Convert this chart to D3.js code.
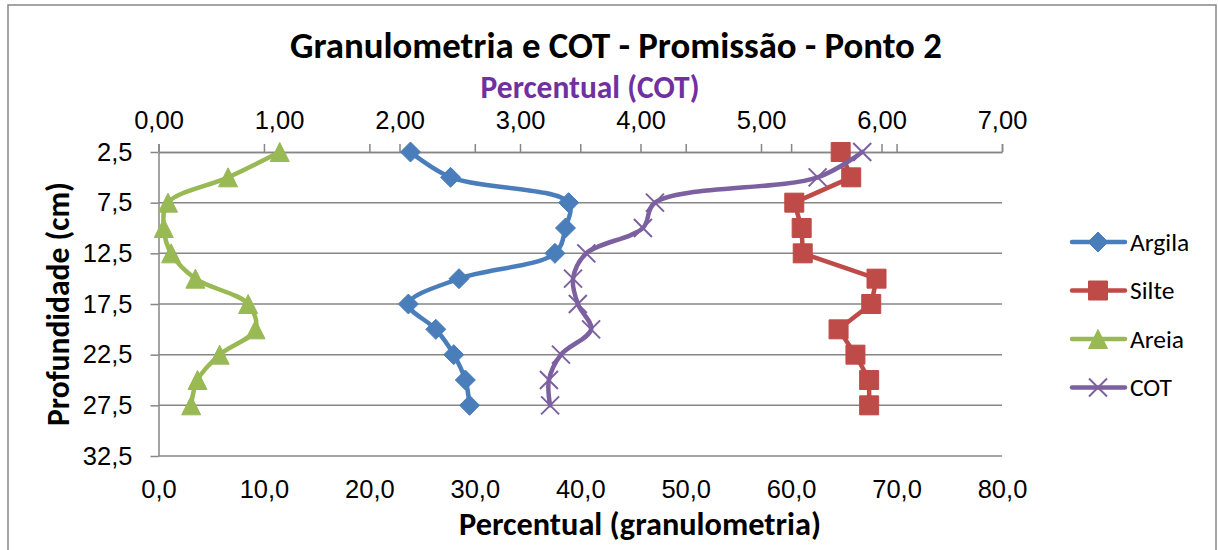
<!DOCTYPE html>
<html>
<head>
<meta charset="utf-8">
<script src="https://cdn.jsdelivr.net/npm/d3@7"></script>
<style>
  body { margin: 0; background: #fff; }
  svg { display: block; font-family: Carlito, Calibri, Lato, sans-serif; }
</style>
</head>
<body>
<div id="chart"></div>
<script>
// depth of each sample (cm) and percentages
var depth = [2.5, 5, 7.5, 10, 12.5, 15, 17.5, 20, 22.5, 25, 27.5]
var argila = [23.9, 27.7, 38.9, 38.6, 37.6, 28.5, 23.7, 26.3, 28.0, 29.1, 29.5]
var silte = [64.7, 65.7, 60.3, 61.0, 61.1, 68.1, 67.6, 64.5, 66.1, 67.4, 67.4]
var areia = [11.5, 6.6, 0.9, 0.5, 1.2, 3.5, 8.5, 9.2, 5.8, 3.7, 3.1]
var cot = [5.84, 5.47, 4.12, 4.02, 3.55, 3.44, 3.48, 3.59, 3.34, 3.24, 3.25]

var depthTicks = [2.5, 7.5, 12.5, 17.5, 22.5, 27.5, 32.5]
var granTicks = [0, 10, 20, 30, 40, 50, 60, 70, 80]
var cotTicks = [0, 1, 2, 3, 4, 5, 6, 7]

var W = 1218, H = 550
var svg = d3.select('#chart').append('svg').attr('width', W).attr('height', H)

svg.append('rect').attr('x', 8).attr('y', 5).attr('width', 1208).attr('height', 570)
    .attr('fill', '#fff').attr('stroke', '#868686').attr('stroke-width', 1.5)

const plot = { left: 158.5, right: 1002, top: 152, bottom: 456 }
const y = d3.scaleLinear().domain([2.5, 32.5]).range([plot.top, plot.bottom])
const xGran = d3.scaleLinear().domain([0, 80]).range([plot.left, plot.right])
const xCot = d3.scaleLinear().domain([0, 7]).range([plot.left, plot.right])

const comma = f => (v => d3.format(f)(v).replace('.', ','))
const gray = '#868686'
const labelSize = 25.5

// gridlines
svg.append('g').selectAll('line')
    .data(depthTicks.slice(1))
    .enter().append('line')
    .attr('x1', plot.left).attr('x2', plot.right)
    .attr('y1', d => y(d)).attr('y2', d => y(d))
    .attr('stroke', gray).attr('stroke-width', 1.5)

function styleAxis(g) {
    g.selectAll('path, line').attr('stroke', gray).attr('stroke-width', 1.5)
    g.selectAll('text').attr('fill', '#000').attr('font-size', labelSize)
}

// top line carries the ticks of both horizontal axes
svg.append('g').attr('transform', `translate(0,${plot.top})`)
    .call(d3.axisTop(xGran).tickValues(granTicks).tickSize(8).tickSizeOuter(0).tickFormat(''))
    .call(styleAxis)
svg.append('g').attr('transform', `translate(0,${plot.top})`)
    .call(d3.axisTop(xCot).tickValues(cotTicks).tickSize(8).tickSizeOuter(0).tickPadding(15).tickFormat(comma('.2f')))
    .call(styleAxis)

// bottom labels only
svg.append('g').attr('transform', `translate(0,${plot.bottom})`)
    .call(d3.axisBottom(xGran).tickValues(granTicks).tickSize(0).tickPadding(24).tickFormat(comma('.1f')))
    .call(styleAxis)
    .call(g => g.select('.domain').remove())

svg.append('g').attr('transform', `translate(${plot.left},0)`)
    .call(d3.axisLeft(y).tickValues(depthTicks).tickSize(8).tickSizeOuter(0).tickPadding(18).tickFormat(comma('.1f')))
    .call(styleAxis)

// markers, centred on their bounding box like Excel draws them
function markerPath(type, s) {
    var h = s / 2
    if (type == 'diamond') return `M0,${-h}L${h},0L0,${h}L${-h},0Z`
    if (type == 'square') return `M${-h},${-h}H${h}V${h}H${-h}Z`
    if (type == 'triangle') return `M0,${-h}L${h},${h}L${-h},${h}Z`
    return `M${-h},${-h}L${h},${h}M${-h},${h}L${h},${-h}`
}

var series = [
    { name: 'Argila', values: argila, x: xGran, color: '#4A7EBB', marker: 'diamond', size: 20, curve: d3.curveCatmullRom },
    { name: 'Silte', values: silte, x: xGran, color: '#BE4B48', marker: 'square', size: 19, curve: d3.curveLinear },
    { name: 'Areia', values: areia, x: xGran, color: '#98B954', marker: 'triangle', size: 19, curve: d3.curveCatmullRom },
    { name: 'COT', values: cot, x: xCot, color: '#7D60A0', marker: 'x', size: 18, curve: d3.curveCatmullRom }
]

function drawMarker(g, s, cx, cy) {
    var p = g.append('path').attr('d', markerPath(s.marker, s.size))
        .attr('transform', `translate(${cx},${cy})`)
    if (s.marker == 'x') p.attr('fill', 'none').attr('stroke', s.color).attr('stroke-width', 2)
    else p.attr('fill', s.color).attr('stroke', s.color).attr('stroke-width', 1)
}

series.forEach(s => {
    var pts = s.values.map((v, i) => [s.x(v), y(depth[i])])
    var g = svg.append('g')
    g.append('path').attr('d', d3.line().curve(s.curve)(pts))
        .attr('fill', 'none').attr('stroke', s.color).attr('stroke-width', 4.5)
        .attr('stroke-linejoin', 'round').attr('stroke-linecap', 'round')
    pts.forEach(p => drawMarker(g, s, p[0], p[1]))
})

// legend
var legend = svg.append('g')
series.forEach((s, i) => {
    var ly = 242 + i * 48.5
    legend.append('line').attr('x1', 1072).attr('x2', 1125).attr('y1', ly).attr('y2', ly)
        .attr('stroke', s.color).attr('stroke-width', 4.5).attr('stroke-linecap', 'round')
    drawMarker(legend, s, 1098, ly)
    legend.append('text').attr('x', 1130).attr('y', ly).attr('dy', '0.35em')
        .attr('font-size', labelSize).text(s.name)
})

// titles, sized to the widths measured on the reference
function fit(t, w) {
    var cur = t.node().getComputedTextLength()
    t.attr('font-size', parseFloat(t.attr('font-size')) * w / cur)
}

fit(svg.append('text').attr('x', 616).attr('y', 58).attr('text-anchor', 'middle')
    .attr('font-weight', 'bold').attr('font-size', 30)
    .text('Granulometria e COT - Promissão - Ponto 2'), 652)

fit(svg.append('text').attr('x', 590).attr('y', 98).attr('text-anchor', 'middle')
    .attr('font-weight', 'bold').attr('font-size', 24).attr('fill', '#7030A0')
    .text('Percentual (COT)'), 219)

fit(svg.append('text').attr('x', 640).attr('y', 535).attr('text-anchor', 'middle')
    .attr('font-weight', 'bold').attr('font-size', 24)
    .text('Percentual (granulometria)'), 362)

fit(svg.append('text').attr('transform', 'translate(69,304) rotate(-90)').attr('text-anchor', 'middle')
    .attr('font-weight', 'bold').attr('font-size', 24)
    .text('Profundidade (cm)'), 244)
</script>
</body>
</html>
